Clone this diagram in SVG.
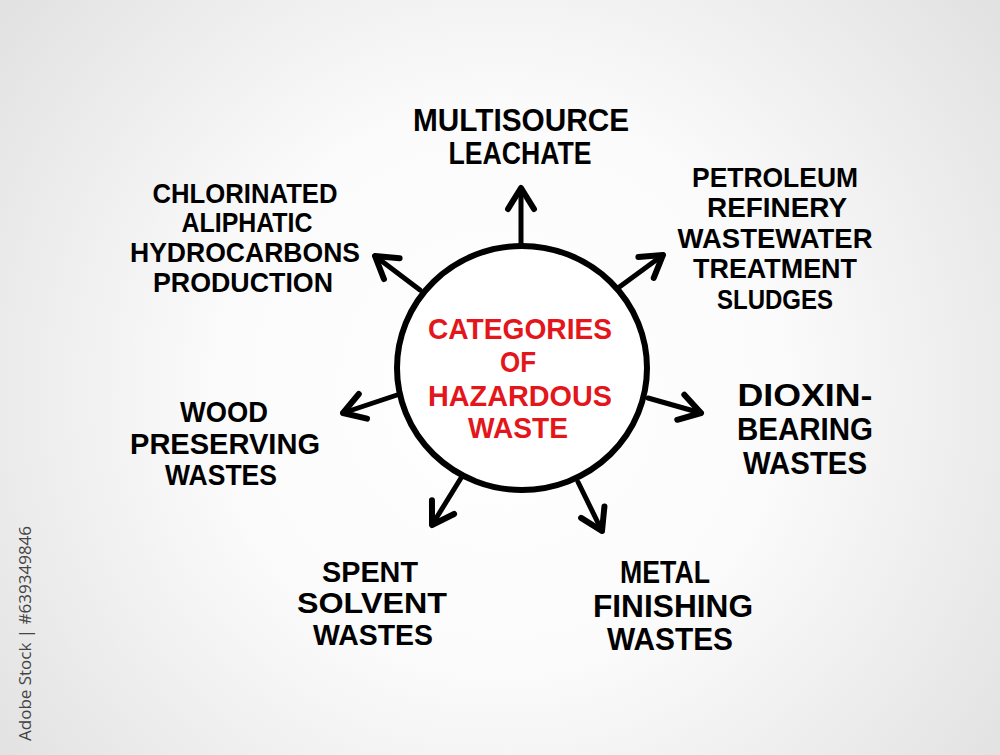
<svg xmlns="http://www.w3.org/2000/svg" width="1000" height="755" viewBox="0 0 1000 755">
<defs>
<radialGradient id="bg" cx="500" cy="390" r="620" gradientUnits="userSpaceOnUse">
<stop offset="0" stop-color="#ffffff"/>
<stop offset="0.45" stop-color="#fbfbfb"/>
<stop offset="1" stop-color="#e2e2e2"/>
</radialGradient>
<marker id="ah" markerUnits="userSpaceOnUse" markerWidth="40" markerHeight="40" refX="0" refY="0" viewBox="-30 -20 40 40" orient="auto" overflow="visible">
<path d="M-21,-13 L0,0 L-21,13" fill="none" stroke="#000" stroke-width="6" stroke-linecap="round" stroke-linejoin="round"/>
</marker>
<style>
.lbl{font-family:"Liberation Sans","Arial",sans-serif;font-weight:bold;fill:#000;text-anchor:middle}
.ctr{font-family:"Liberation Sans","Arial",sans-serif;font-weight:bold;fill:#e3161b;text-anchor:middle;font-size:30px}
.arr{fill:none;stroke:#000;stroke-width:5;stroke-linecap:round;marker-end:url(#ah)}
</style>
</defs>
<rect x="0" y="0" width="1000" height="755" fill="url(#bg)"/>
<text transform="translate(31,741) rotate(-90)" font-family="'Open Sans','Liberation Sans',sans-serif" font-size="17" fill="#444">Adobe Stock | #639349846</text>

<g id="connectors">
<path class="arr" d="M521,244 L521,188"/>
<path class="arr" d="M420,290 L375,256"/>
<path class="arr" d="M618,288 L663,255"/>
<path class="arr" d="M397,395 L343,413"/>
<path class="arr" d="M648,398 L701,413"/>
<path class="arr" d="M461,478 L432,525"/>
<path class="arr" d="M578,482 L602,531"/>
</g>

<g id="center">
<ellipse cx="522" cy="368" rx="125" ry="122" fill="#ffffff" stroke="#000" stroke-width="6"/>
<text class="ctr" x="520" y="339" textLength="184" lengthAdjust="spacingAndGlyphs">CATEGORIES</text>
<text class="ctr" x="518" y="372" textLength="36" lengthAdjust="spacingAndGlyphs">OF</text>
<text class="ctr" x="520" y="406" textLength="184" lengthAdjust="spacingAndGlyphs">HAZARDOUS</text>
<text class="ctr" x="518" y="438" textLength="100" lengthAdjust="spacingAndGlyphs">WASTE</text>
</g>

<g id="multisource" class="lbl" font-size="31">
<text x="521" y="131" textLength="216" lengthAdjust="spacingAndGlyphs">MULTISOURCE</text>
<text x="520" y="164" textLength="143" lengthAdjust="spacingAndGlyphs">LEACHATE</text>
</g>

<g id="chlorinated" class="lbl" font-size="28">
<text x="245" y="203" textLength="185" lengthAdjust="spacingAndGlyphs">CHLORINATED</text>
<text x="247" y="232" textLength="131" lengthAdjust="spacingAndGlyphs">ALIPHATIC</text>
<text x="245" y="262" textLength="230" lengthAdjust="spacingAndGlyphs">HYDROCARBONS</text>
<text x="243" y="292" textLength="180" lengthAdjust="spacingAndGlyphs">PRODUCTION</text>
</g>

<g id="petroleum" class="lbl" font-size="28">
<text x="775" y="187" textLength="166" lengthAdjust="spacingAndGlyphs">PETROLEUM</text>
<text x="777" y="217" textLength="140" lengthAdjust="spacingAndGlyphs">REFINERY</text>
<text x="775" y="248" textLength="195" lengthAdjust="spacingAndGlyphs">WASTEWATER</text>
<text x="775" y="278" textLength="164" lengthAdjust="spacingAndGlyphs">TREATMENT</text>
<text x="775" y="309" textLength="116" lengthAdjust="spacingAndGlyphs">SLUDGES</text>
</g>

<g id="wood" class="lbl" font-size="30">
<text x="224" y="422" textLength="88" lengthAdjust="spacingAndGlyphs">WOOD</text>
<text x="225" y="454" textLength="190" lengthAdjust="spacingAndGlyphs">PRESERVING</text>
<text x="221" y="485" textLength="112" lengthAdjust="spacingAndGlyphs">WASTES</text>
</g>

<g id="dioxin" class="lbl" font-size="31">
<text x="805" y="406" textLength="135" lengthAdjust="spacingAndGlyphs">DIOXIN-</text>
<text x="805" y="440" textLength="136" lengthAdjust="spacingAndGlyphs">BEARING</text>
<text x="805" y="474" textLength="124" lengthAdjust="spacingAndGlyphs">WASTES</text>
</g>

<g id="spent" class="lbl" font-size="30">
<text x="370" y="582" textLength="96" lengthAdjust="spacingAndGlyphs">SPENT</text>
<text x="372" y="613" textLength="150" lengthAdjust="spacingAndGlyphs">SOLVENT</text>
<text x="373" y="645" textLength="120" lengthAdjust="spacingAndGlyphs">WASTES</text>
</g>

<g id="metal" class="lbl" font-size="31">
<text x="665" y="583" textLength="90" lengthAdjust="spacingAndGlyphs">METAL</text>
<text x="673" y="617" textLength="160" lengthAdjust="spacingAndGlyphs">FINISHING</text>
<text x="670" y="650" textLength="126" lengthAdjust="spacingAndGlyphs">WASTES</text>
</g>
</svg>
